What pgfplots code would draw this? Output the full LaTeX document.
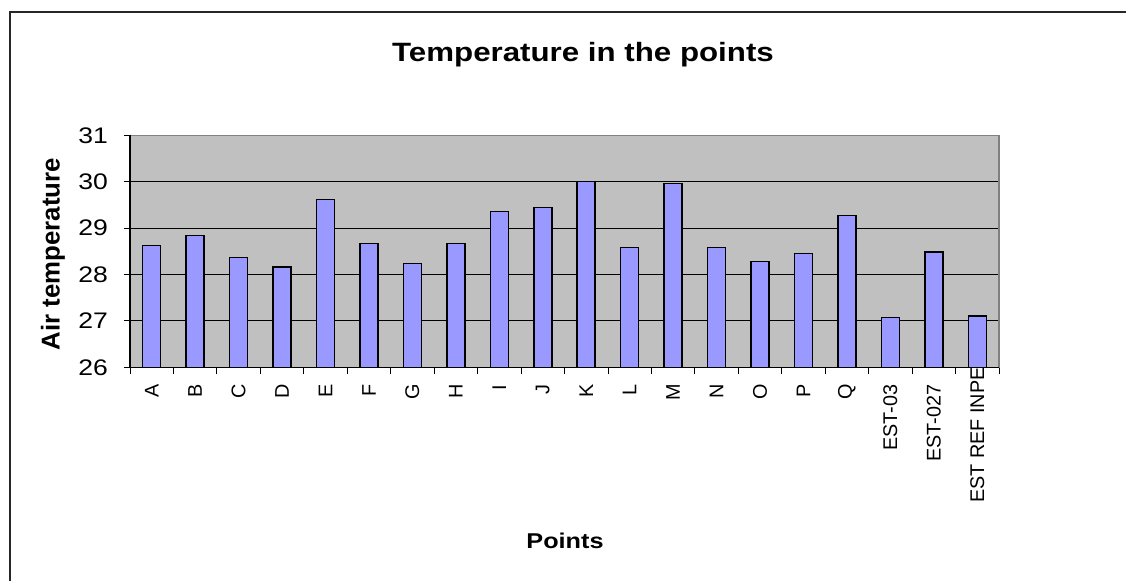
\documentclass[border=0pt]{standalone}
\usepackage{fontspec}
\setmainfont[FakeStretch=1.18]{Liberation Sans}
\newfontfamily\rotfont{Liberation Sans}
\usepackage{graphicx}
\usepackage{pgfplots}
\pgfplotsset{compat=1.18}
\definecolor{plotgray}{HTML}{C0C0C0}
\definecolor{barblue}{HTML}{9999FF}
\definecolor{bordergray}{HTML}{808080}
\begin{document}
\begin{tikzpicture}
\useasboundingbox (0,0) rectangle (1126pt,581pt);
\fill[white] (0,0) rectangle (1126pt,581pt);
\draw[black!85, line width=1.5pt] (10pt,0) -- (10pt,569pt) -- (1126pt,569pt);
\begin{axis}[
  name=ax,
  at={(130pt,213.7pt)}, anchor=south west,
  scale only axis, width=869pt, height=232pt,
  xmin=-0.5, xmax=19.5, ymin=26, ymax=31,
  ytick={26,27,28,29,30,31},
  ymajorgrids, grid style={black, line width=0.9pt},
  axis background/.style={fill=plotgray},
  axis line style={draw=bordergray, line width=1.5pt},
  tick align=outside, tick pos=left,
  tick style={black, line width=0.9pt},
  major tick length=6.5pt,
  y tick label style={font=\fontsize{22.5}{25}\selectfont, xshift=-12pt, /pgf/number format/assume math mode=true},
  xtick={-0.5,0.5,1.5,2.5,3.5,4.5,5.5,6.5,7.5,8.5,9.5,10.5,11.5,12.5,13.5,14.5,15.5,16.5,17.5,18.5,19.5},
  xticklabels={},
  extra x ticks={0,1,2,3,4,5,6,7,8,9,10,11,12,13,14,15,16,17,18,19},
  extra x tick labels={A,B,C,D,E,F,G,H,I,J,K,L,M,N,O,P,Q,EST-03,EST-027,{\makebox[\dimexpr\width-17pt\relax][l]{EST REF INPE}}},
  extra x tick style={major tick length=0pt, tick label style={rotate=90, anchor=east, inner sep=0pt, xshift=-17pt, font=\rotfont\fontsize{19.8}{22}\selectfont}},
]
\addplot[ybar, bar width=18pt, fill=barblue, draw=black, line width=1.5pt] coordinates {
(0,28.63) (1,28.84) (2,28.37) (3,28.16) (4,29.62) (5,28.67) (6,28.24) (7,28.67) (8,29.36) (9,29.44)
(10,30.00) (11,28.58) (12,29.96) (13,28.58) (14,28.28) (15,28.45) (16,29.27) (17,27.07) (18,28.49) (19,27.11)
};
\end{axis}
\draw[black, line width=1.2pt] (ax.north west) -- (ax.south west) -- (ax.south east);
\node[anchor=base, font=\bfseries\fontsize{26.5}{30}\selectfont] at (583pt,519.3pt) {Temperature in the points};
\node[anchor=base, font=\bfseries\fontsize{21.4}{25}\selectfont] at (565pt,33pt) {Points};
\node[rotate=90, anchor=center, font=\rotfont\bfseries\fontsize{25.8}{29}\selectfont] at (53pt,327pt) {Air temperature};
\end{tikzpicture}
\end{document}
